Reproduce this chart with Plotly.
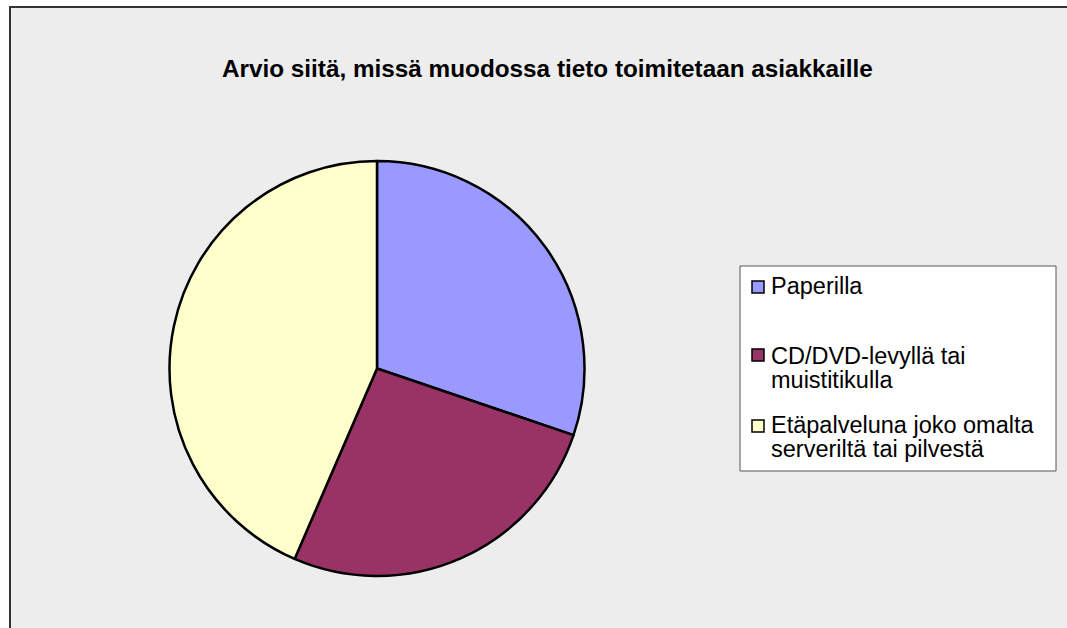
import plotly.graph_objects as go

# ---- data ----
title_text = "Arvio siitä, missä muodossa tieto toimitetaan asiakkaille"
category_lines = [
    ["Paperilla"],
    ["CD/DVD-levyllä tai", "muistitikulla"],
    ["Etäpalveluna joko omalta", "serveriltä tai pilvestä"],
]
categories = [" ".join(l) for l in category_lines]
values = [30.2, 26.3, 43.5]
colors = ["#9999FF", "#993366", "#FFFFCC"]

W, H = 1067, 628


def px(x):
    return x / W


def py(y):
    return 1 - y / H


cx, cy, r = 377, 368.5, 207.5

fig = go.Figure()
fig.add_trace(go.Pie(
    labels=categories,
    values=values,
    sort=False,
    direction="clockwise",
    rotation=0,
    marker=dict(colors=colors, line=dict(color="#000000", width=2.5)),
    textinfo="none",
    hoverinfo="label+percent",
    showlegend=False,
    domain=dict(x=[px(cx - r), px(cx + r)], y=[py(cy + r), py(cy - r)]),
))

shapes = [
    # chart area background
    dict(type="rect", xref="paper", yref="paper",
         x0=px(10), x1=px(W + 20), y0=py(H + 20), y1=py(7),
         fillcolor="#EDEDED", line=dict(color="#333333", width=2), layer="below"),
    # legend box
    dict(type="rect", xref="paper", yref="paper",
         x0=px(740), x1=px(1056), y0=py(471), y1=py(266),
         fillcolor="#FFFFFF", line=dict(color="#555555", width=1), layer="below"),
]

tfs = 24.3
annotations = [
    dict(text="<b>" + title_text + "</b>", x=px(547), y=py(77 - 0.33 * tfs),
         xref="paper", yref="paper",
         xanchor="center", yanchor="middle", showarrow=False,
         font=dict(family="Liberation Sans", size=tfs, color="#000000")),
]

swatch_tops = [281, 349, 420]
first_baselines = [294, 363.5, 432.5]
line_gap = 24
fs = 23.5
for i, lines in enumerate(category_lines):
    t = swatch_tops[i]
    shapes.append(dict(type="rect", xref="paper", yref="paper",
                       x0=px(752), x1=px(764), y0=py(t + 12), y1=py(t),
                       fillcolor=colors[i], line=dict(color="#000000", width=1.5)))
    for j, line in enumerate(lines):
        base = first_baselines[i] + j * line_gap
        annotations.append(dict(text=line, x=px(770), y=py(base - 0.33 * fs),
                                xref="paper", yref="paper", xanchor="left", yanchor="middle",
                                showarrow=False, borderpad=0,
                                font=dict(family="Liberation Sans", size=fs, color="#000000")))

fig.update_layout(
    width=W, height=H,
    margin=dict(l=0, r=0, t=0, b=0),
    paper_bgcolor="#FFFFFF",
    plot_bgcolor="#FFFFFF",
    shapes=shapes,
    annotations=annotations,
    showlegend=False,
)

fig.write_html("out.html", config={"displayModeBar": False},
               post_script="document.body.style.margin='0px';document.body.style.padding='0px';")
